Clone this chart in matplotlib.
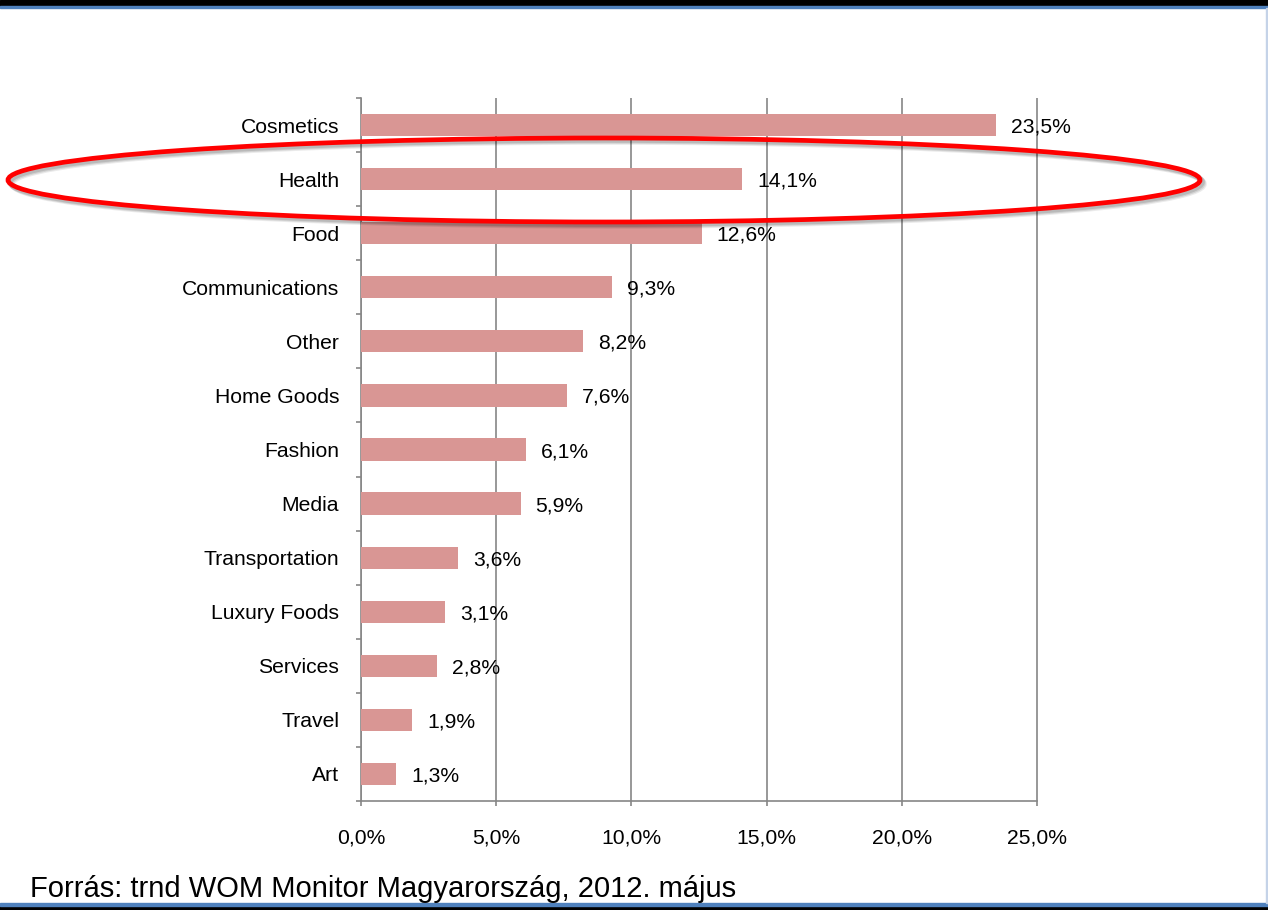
import matplotlib
matplotlib.use("Agg")
import matplotlib.pyplot as plt
from matplotlib.patches import Ellipse, Rectangle
from matplotlib.ticker import FixedLocator, FuncFormatter

plt.rcParams['font.family'] = ['Liberation Sans', 'DejaVu Sans']

# Data (top to bottom)
categories = ['Cosmetics', 'Health', 'Food', 'Communications', 'Other', 'Home Goods',
              'Fashion', 'Media', 'Transportation', 'Luxury Foods', 'Services', 'Travel', 'Art']
values = [23.5, 14.1, 12.6, 9.3, 8.2, 7.6, 6.1, 5.9, 3.6, 3.1, 2.8, 1.9, 1.3]
x_ticks = [0, 5, 10, 15, 20, 25]

W, H = 1268, 910
FS = 15.2
fig = plt.figure(figsize=(W / 100, H / 100), dpi=100)
ax = fig.add_axes([361 / W, 1 - 801 / H, (1039 - 361) / W, (801 - 98) / H])

pos = list(range(len(categories)))
ax.barh(pos, values, height=0.41, color='#D99694', zorder=3)
ax.set_ylim(len(categories) - 0.5, -0.5)
ax.set_xlim(0, 25 * 678 / 676)

# value labels
for p, v in zip(pos, values):
    ax.annotate(f"{v:.1f}%".replace('.', ','), (v, p), xytext=(10.8, 0), textcoords='offset points',
                va='center_baseline', ha='left', fontsize=FS, zorder=4)

ax.set_yticks(pos)
ax.set_yticklabels(categories, fontsize=FS, va='center_baseline')
ax.yaxis.set_minor_locator(FixedLocator([i - 0.5 for i in range(len(categories) + 1)]))
ax.tick_params(axis='y', which='major', length=0, pad=15.8)
ax.tick_params(axis='y', which='minor', length=3.6, color='#868686', width=1.2)

ax.xaxis.set_major_locator(FixedLocator(x_ticks))
ax.xaxis.set_major_formatter(FuncFormatter(lambda x, _: f"{x:.1f}%".replace('.', ',')))
ax.tick_params(axis='x', length=3.6, color='#868686', width=1.2, pad=16, labelsize=FS)

ax.grid(axis='x', color='#868686', linewidth=1.2, zorder=0)
for s in ['top', 'right']:
    ax.spines[s].set_visible(False)
ax.spines['bottom'].set_bounds(0, 25)
for s in ['left', 'bottom']:
    ax.spines[s].set_color('#868686')
    ax.spines[s].set_linewidth(1.2)

# highlight ellipse with a soft shadow
cx, cy, ew, eh = 604, 180, 1192, 84
for off, a in [(4, 0.08), (3, 0.1), (2, 0.12)]:
    fig.patches.append(Ellipse(((cx + off) / W, 1 - (cy + off) / H), ew / W, eh / H,
                               transform=fig.transFigure, fill=False, edgecolor='black',
                               alpha=a, linewidth=4, zorder=9))
fig.patches.append(Ellipse((cx / W, 1 - cy / H), ew / W, eh / H, transform=fig.transFigure,
                           fill=False, edgecolor='#FF0000', linewidth=3.4, zorder=10))

# slide frame
fig.patches.append(Rectangle((0, 1 - 6 / H), 1, 6 / H, transform=fig.transFigure, color='black', zorder=1))
fig.patches.append(Rectangle((0, 1 - 8 / H), 1, 2 / H, transform=fig.transFigure, color='#4F81BD', zorder=1))
fig.patches.append(Rectangle((0, 0), 1, 4 / H, transform=fig.transFigure, color='black', zorder=1))
fig.patches.append(Rectangle((0, 4 / H), 1, 3 / H, transform=fig.transFigure, color='#4F81BD', zorder=1))
fig.patches.append(Rectangle((1 - 2 / W, 7 / H), 2 / W, 1 - 15 / H, transform=fig.transFigure,
                             color='#C5D3E8', zorder=1))

fig.text(30 / W, 1 - 897 / H, "Forrás: trnd WOM Monitor Magyarország, 2012. május",
         family=['Liberation Sans', 'DejaVu Sans'], fontsize=21, va='baseline', ha='left')

fig.savefig('out.png', dpi=100)
